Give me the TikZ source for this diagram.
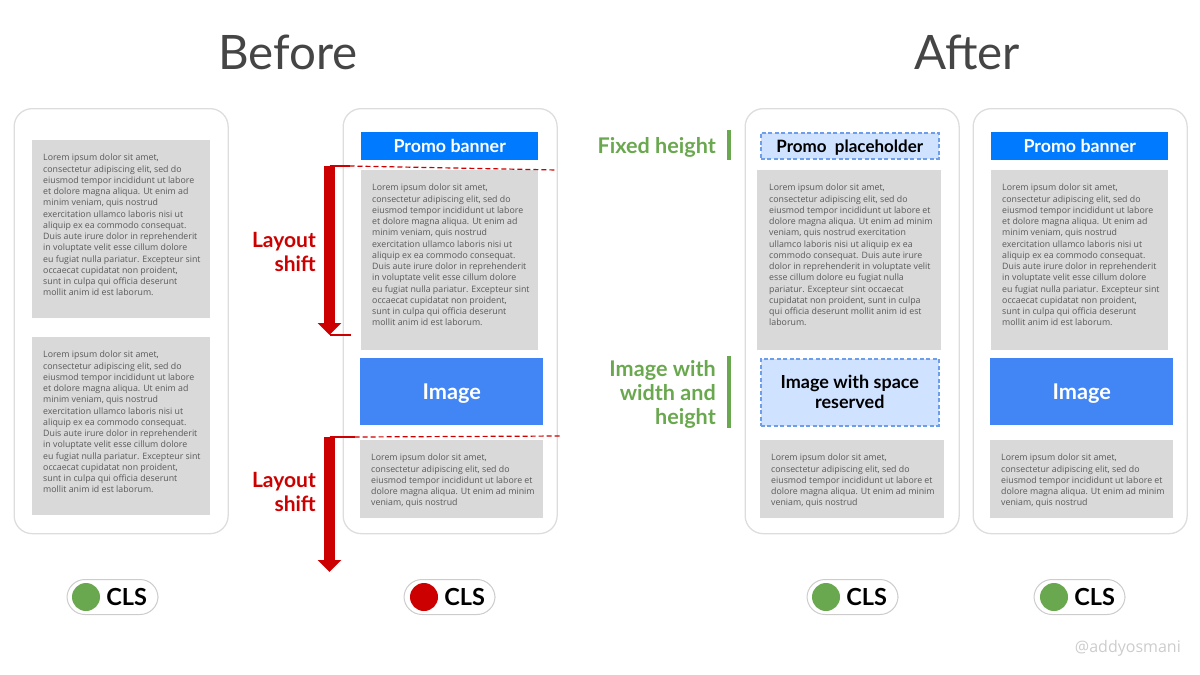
\documentclass[tikz,border=0pt]{standalone}
\usepackage{fontspec}
\setmainfont{Open Sans}
\newfontfamily\headfont{Lato}
\usetikzlibrary{positioning, arrows.meta}
\definecolor{framegray}{HTML}{DDDDDD}
\definecolor{copygray}{HTML}{D9D9D9}
\definecolor{copyink}{HTML}{595959}
\definecolor{bannerblue}{HTML}{007BFF}
\definecolor{imageblue}{HTML}{4285F4}
\definecolor{holdfill}{HTML}{CFE2FF}
\definecolor{holdline}{HTML}{6D9EEB}
\definecolor{goodgreen}{HTML}{6AA84F}
\definecolor{shiftred}{HTML}{CC0000}
\newcommand{\longcopy}{Lorem ipsum dolor sit amet,\\consectetur adipiscing elit, sed do\\eiusmod tempor incididunt ut labore\\et dolore magna aliqua. Ut enim ad\\minim veniam, quis nostrud\\exercitation ullamco laboris nisi ut\\aliquip ex ea commodo consequat.\\Duis aute irure dolor in reprehenderit\\in voluptate velit esse cillum dolore\\eu fugiat nulla pariatur. Excepteur sint\\occaecat cupidatat non proident,\\sunt in culpa qui officia deserunt\\mollit anim id est laborum.}
\newcommand{\widecopy}{Lorem ipsum dolor sit amet,\\consectetur adipiscing elit, sed do\\eiusmod tempor incididunt ut labore et\\dolore magna aliqua. Ut enim ad minim\\veniam, quis nostrud exercitation\\ullamco laboris nisi ut aliquip ex ea\\commodo consequat. Duis aute irure\\dolor in reprehenderit in voluptate velit\\esse cillum dolore eu fugiat nulla\\pariatur. Excepteur sint occaecat\\cupidatat non proident, sunt in culpa\\qui officia deserunt mollit anim id est\\laborum.}
\newcommand{\shortcopy}{Lorem ipsum dolor sit amet,\\consectetur adipiscing elit, sed do\\eiusmod tempor incididunt ut labore et\\dolore magna aliqua. Ut enim ad minim\\veniam, quis nostrud}
\begin{document}
\begin{tikzpicture}[x=1pt, y=-1pt,
        phone/.style={draw=framegray, line width=1.3pt, rounded corners=18pt, anchor=north west, minimum width=214pt, minimum height=425pt, inner sep=0pt},
        copybox/.style={fill=copygray, anchor=north west, inner sep=0pt},
        copytext/.style={text=copyink, align=left, inner sep=0pt, font=\fontsize{8.8}{11.25}\selectfont},
        banner/.style={fill=bannerblue, text=white, anchor=north west, inner sep=0pt, minimum width=177pt, minimum height=28pt, font=\headfont\fontsize{17.8}{20}\selectfont\bfseries},
        image/.style={fill=imageblue, text=white, anchor=north west, inner sep=0pt, minimum width=183pt, minimum height=67pt, text depth=0pt, font=\headfont\fontsize{21.7}{24}\selectfont\bfseries},
        holder/.style={draw=holdline, dash pattern=on 4pt off 2.5pt, line width=1.6pt, fill=holdfill, text=black, anchor=north west, inner sep=0pt, minimum width=178pt, align=center, font=\headfont\fontsize{18}{20}\selectfont\bfseries},
        shiftlabel/.style={text=shiftred, anchor=east, align=right, inner sep=0pt, font=\headfont\fontsize{21}{24}\selectfont\bfseries},
        notelabel/.style={text=goodgreen, anchor=east, align=right, inner sep=0pt, font=\headfont\fontsize{21.6}{24}\selectfont\bfseries},
        title/.style={text=black!73, inner sep=0pt, font=\headfont\fontsize{47.5}{56}\selectfont},
        pill/.style={draw=black!20, line width=1pt, fill=white, rounded corners=18pt, minimum width=91pt, minimum height=35pt, inner sep=0pt},
        dot/.style={circle, minimum size=28pt, inner sep=0pt},
        score/.style={text=black, inner sep=0pt, font=\headfont\fontsize{23.5}{26}\selectfont\bfseries},
        shiftarrow/.style={draw=shiftred, line width=11pt, -{Triangle[width=23pt, length=12pt]}},
        guide/.style={draw=shiftred, line width=1.2pt},
        notebar/.style={draw=goodgreen, line width=4pt}
    ]
    \useasboundingbox (0,0) rectangle (1200,675);

    \node[title] (before) at (288,52) {Before};
    \node[title] (after) at (967,52) {After};

    % the four phones
    \node[phone] (phoneA) at (13.5,108) {};
    \node[phone] (phoneB) at (342.5,108) {};
    \node[phone] (phoneC) at (744.5,108) {};
    \node[phone] (phoneD) at (972.5,108) {};

    % first phone
    \node[copybox, minimum width=178pt, minimum height=178pt] (copyAa) at (32,140) {};
    \node[copytext, below right=14pt and 11pt of copyAa.north west] (textAa) {\longcopy};
    \node[copybox, minimum width=178pt, minimum height=178pt] (copyAb) at (32,337) {};
    \node[copytext, below right=14pt and 11pt of copyAb.north west] (textAb) {\longcopy};

    % second phone
    \node[banner] (bannerB) at (361,132) {Promo banner};
    \node[copybox, minimum width=177pt, minimum height=180pt] (copyBa) at (361,170) {};
    \node[copytext, below right=14pt and 11pt of copyBa.north west] (textBa) {\longcopy};
    \node[image] (imageB) at (360,358) {Image};
    \node[copybox, minimum width=183pt, minimum height=78pt] (copyBb) at (360,440) {};
    \node[copytext, below right=14pt and 11pt of copyBb.north west] (textBb) {\shortcopy};

    % third phone
    \node[holder, minimum height=26pt, text depth=0pt, font=\headfont\fontsize{17}{20}\selectfont\bfseries] (holdC) at (760,132) {Promo\ \ placeholder};
    \node[copybox, minimum width=184pt, minimum height=180pt] (copyCa) at (757,170) {};
    \node[copytext, below right=14pt and 12pt of copyCa.north west] (textCa) {\widecopy};
    \node[holder, minimum height=67pt] (holdCb) at (760,358) {Image with space\\reserved};
    \node[copybox, minimum width=184pt, minimum height=78pt] (copyCb) at (760,440) {};
    \node[copytext, below right=14pt and 11pt of copyCb.north west] (textCb) {\shortcopy};

    % fourth phone
    \node[banner] (bannerD) at (991,132) {Promo banner};
    \node[copybox, minimum width=177pt, minimum height=180pt] (copyDa) at (991,170) {};
    \node[copytext, below right=14pt and 11pt of copyDa.north west] (textDa) {\longcopy};
    \node[image] (imageD) at (990,358) {Image};
    \node[copybox, minimum width=183pt, minimum height=78pt] (copyDb) at (990,440) {};
    \node[copytext, below right=14pt and 11pt of copyDb.north west] (textDb) {\shortcopy};

    % layout shift marks
    \coordinate (shiftAtop) at (329.5,166);
    \coordinate (shiftAend) at (329.5,335);
    \coordinate (shiftBtop) at (329.5,437);
    \coordinate (shiftBend) at (329.5,572);
    \draw[shiftarrow] (shiftAtop) -- (shiftAend);
    \draw[shiftarrow] (shiftBtop) -- (shiftBend);
    \draw[guide] (shiftAtop) -- ++(20,0) coordinate (dashAa);
    \draw[guide] (shiftAend) -- ++(21,0);
    \draw[guide] (shiftBtop) -- ++(25,0) coordinate (dashBa);
    \coordinate (dashAb) at (557,170);
    \coordinate (dashBb) at (562,436);
    \draw[guide, dash pattern=on 5pt off 3pt] (dashAa) -- (dashAb);
    \draw[guide, dash pattern=on 5pt off 3pt] (dashBa) -- (dashBb);
    \node[shiftlabel] (shiftA) at (316,252) {Layout\\shift};
    \node[shiftlabel] (shiftB) at (316,492) {Layout\\shift};

    % green notes
    \coordinate (barAtop) at (729,130);
    \coordinate (barAend) at (729,160);
    \coordinate (barBtop) at (729,356);
    \coordinate (barBend) at (729,428);
    \draw[notebar] (barAtop) -- (barAend);
    \draw[notebar] (barBtop) -- (barBend);
    \node[notelabel] (noteA) at (716,147) {Fixed height};
    \node[notelabel] (noteB) at (716,394) {Image with\\width and\\height};

    % scores
    \foreach \name/\px/\dotx/\dotcol in {A/112.5/86/goodgreen, B/449.5/424/shiftred, C/852.5/826/goodgreen, D/1079.5/1054/goodgreen} {
        \node[pill] (pill\name) at (\px,597) {};
        \node[dot, fill=\dotcol] (dot\name) at (\dotx,597) {};
        \node[score, right=6pt of dot\name] (score\name) {CLS};
    }

    \node[text=black!20, anchor=east, inner sep=0pt, font=\fontsize{16}{18}\selectfont] (handle) at (1181,648) {@addyosmani};
\end{tikzpicture}
\end{document}
